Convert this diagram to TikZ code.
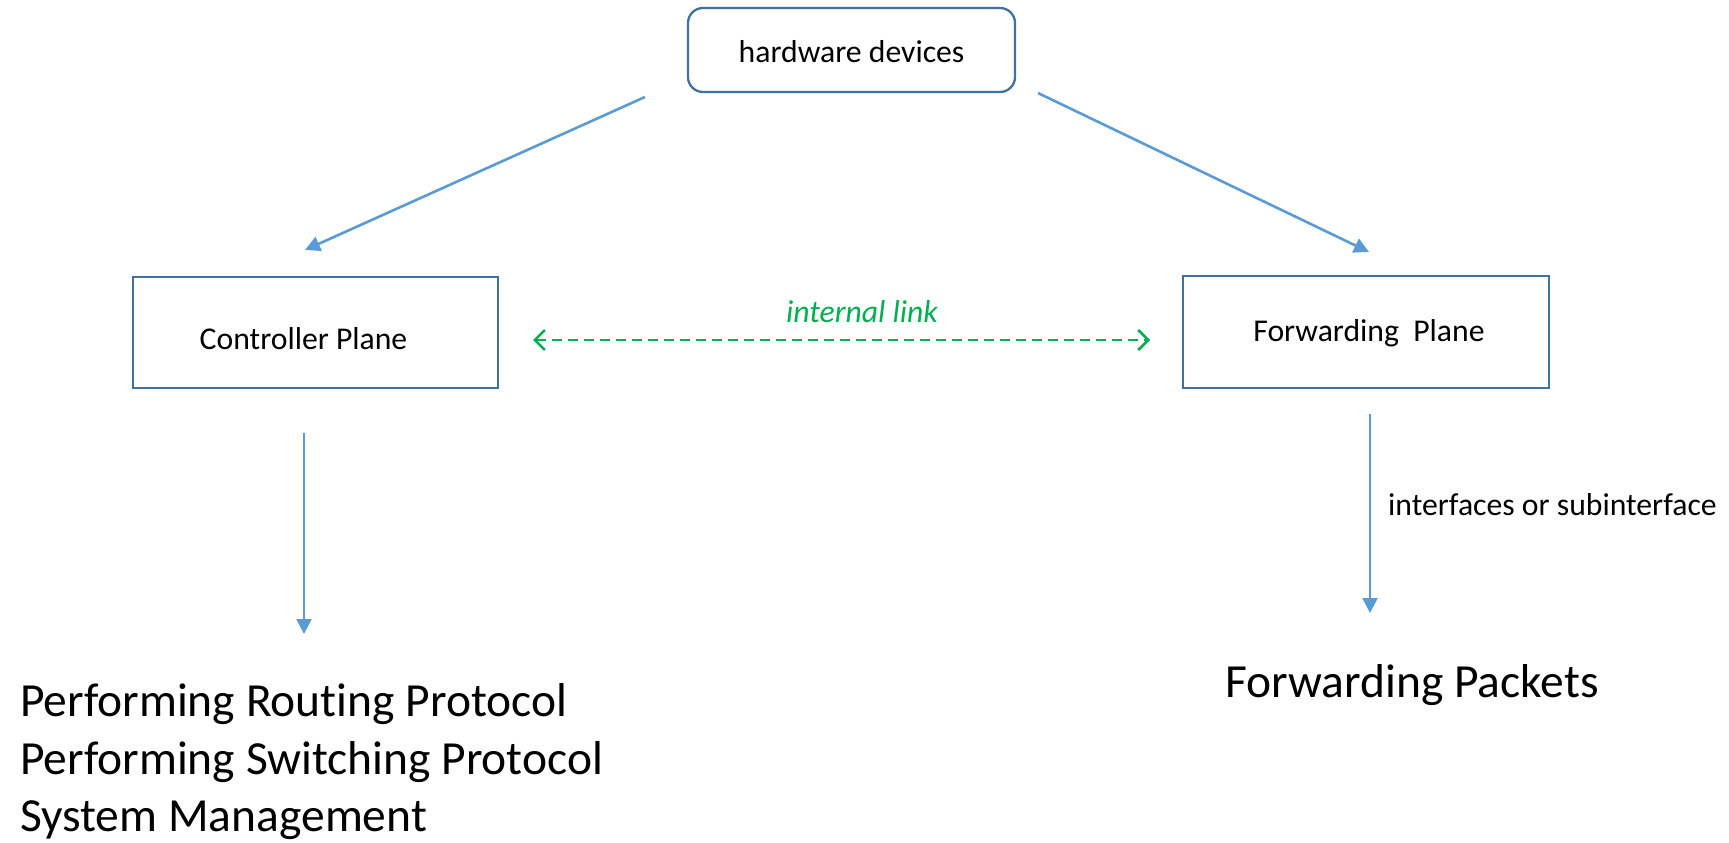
\documentclass[tikz,border=0pt]{standalone}
\usepackage{fontspec}
\setmainfont{Carlito}[Ligatures=NoCommon]
\usetikzlibrary{arrows.meta}
\definecolor{boxblue}{HTML}{41719C}
\definecolor{arrblue}{HTML}{5B9BD5}
\definecolor{lgreen}{HTML}{00B050}
\begin{document}
\begin{tikzpicture}[x=1pt,y=-1pt,
  box/.style={draw=boxblue,line width=2.3pt,inner sep=0pt},
  txt/.style={font=\fontsize{31.7}{38}\selectfont,inner sep=0pt},
  big/.style={font=\fontsize{47.5}{58}\selectfont,inner sep=0pt},
  barrow/.style={draw=arrblue,line width=2.6pt,-{Triangle[length=15pt,width=15pt]}},
  glink/.style={draw=lgreen,line width=2.6pt,dash pattern=on 10pt off 6pt,{Straight Barb[length=10pt,width=20pt]}-{Straight Barb[length=10pt,width=20pt]}}
]
\useasboundingbox (0,0) rectangle (1729,843);
% boxes
\node[box,rounded corners=15pt,minimum width=327pt,minimum height=84pt] (hw) at (851.5,50) {};
\node[txt] (hwt) at (851.5,52) {hardware devices};
\node[box,minimum width=365pt,minimum height=111pt] (cp) at (315.5,332.5) {};
\node[txt] (cpt) at (303.5,339) {Controller Plane};
\node[box,minimum width=366pt,minimum height=112pt] (fp) at (1366,332) {};
\node[txt] (fpt) at (1369,333) {Forwarding\ \ Plane};
% connector ends
\coordinate (hwl) at (645,97);
\coordinate (cpin) at (305,250);
\coordinate (hwr) at (1038,93);
\coordinate (fpin) at (1369,252);
\coordinate (cpout) at (304,433);
\coordinate (cpend) at (304,634);
\coordinate (fpout) at (1370,414);
\coordinate (fpend) at (1370,613);
\coordinate (lkl) at (533,340);
\coordinate (lkr) at (1150,340);
% connectors
\draw[barrow] (hwl) -- (cpin);
\draw[barrow] (hwr) -- (fpin);
\draw[barrow] (cpout) -- (cpend);
\draw[barrow] (fpout) -- (fpend);
\draw[glink] (lkl) -- (lkr);
% labels
\node[txt,text=lgreen,font=\fontsize{31.7}{38}\selectfont\itshape] (lk) at (862,312) {internal link};
\node[txt,anchor=west] (ift) at (1388,505) {interfaces or subinterface};
\node[big] (fwd) at (1412,685) {Forwarding Packets};
\node[big,anchor=base west] (p1) at (20,716) {Performing Routing Protocol};
\node[big,anchor=base west] (p2) at (20,774) {Performing Switching Protocol};
\node[big,anchor=base west] (p3) at (20,831) {System Management};
\end{tikzpicture}
\end{document}
